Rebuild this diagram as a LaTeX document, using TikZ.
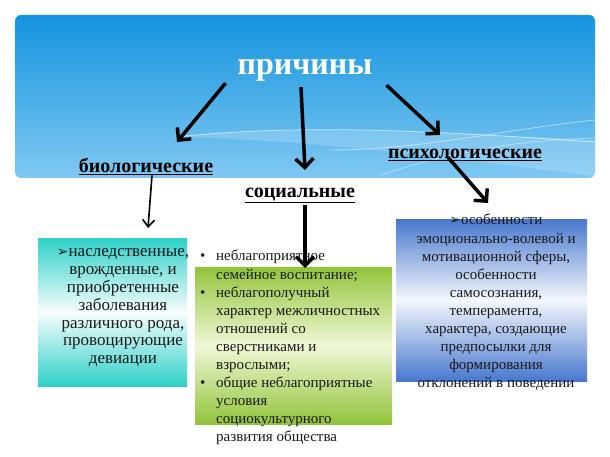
\documentclass[tikz,border=0pt]{standalone}
\usepackage{fontspec}
\setmainfont{Liberation Serif}
\newfontfamily\symfont{DejaVu Sans}
\usetikzlibrary{arrows.meta}
\definecolor{skytop}{RGB}{20,148,222}
\definecolor{skybot}{RGB}{128,200,242}
\definecolor{aqua}{RGB}{46,208,200}
\definecolor{leaf}{RGB}{146,196,58}
\definecolor{leaflight}{RGB}{240,247,214}
\definecolor{royal}{RGB}{72,120,206}
\newcommand{\arrowbullet}{\begingroup\symfont\fontsize{14pt}{14pt}\selectfont ➢\endgroup}
\newcommand{\dotbullet}{\makebox[16pt][l]{\textbullet}}

\begin{document}
\begin{tikzpicture}[x=1pt,y=-1pt,
  bigarrow/.style={line width=3.5pt,-{Straight Barb[length=9pt,width=18pt]}},
  thinarrow/.style={line width=1.6pt,-{Straight Barb[length=7pt,width=12pt]}},
  heading/.style={font=\fontsize{20pt}{24pt}\selectfont\bfseries,anchor=base,inner sep=0pt},
  bodytext/.style={font=\fontsize{15pt}{18.1pt}\selectfont,inner sep=0pt,text=black!90},
  bigtext/.style={font=\fontsize{17pt}{17.8pt}\selectfont,inner sep=0pt,text=black!90},
  causebox/.style={inner sep=0pt,draw=none}]
  \useasboundingbox (0,0) rectangle (610,457);
  \fill[white] (0,0) rectangle (610,457);

  % banner
  \node[causebox,rounded corners=6pt,top color=skytop,bottom color=skybot,
        minimum width=580pt,minimum height=163pt] (sky) at (305,96.5) {};
  \begin{scope}
    \clip[rounded corners=6pt] (15,15) rectangle (595,178);
    \fill[white,opacity=0.18] (175,137) .. controls (300,124) and (420,132) .. (595,140)
      -- (595,176) .. controls (500,165) and (330,140) .. cycle;
    \draw[white,opacity=0.6,line width=0.8pt] (175,137) .. controls (300,124) and (420,130) .. (595,142);
    \draw[white,opacity=0.5,line width=0.8pt] (330,150) .. controls (420,150) and (500,130) .. (595,120);
    \draw[white,opacity=0.4,line width=0.8pt] (380,175) .. controls (460,150) and (520,140) .. (595,138);
  \end{scope}

  \node[font=\fontsize{32pt}{36pt}\selectfont\bfseries,text=white,inner sep=0pt] (root) at (305,70) {причины};

  \node[heading] (bio) at (146,173) {\underline{биологические}};
  \node[heading] (soc) at (300,197) {\underline{социальные}};
  \node[heading] (psy) at (465,159) {\underline{психологические}};

  % boxes
  \node[causebox,top color=aqua,bottom color=aqua,middle color=white!96!aqua,
        minimum width=149pt,minimum height=148pt] (bbox) at (112.5,312) {};
  \node[causebox,top color=leaf,bottom color=leaf,middle color=leaflight,
        minimum width=197pt,minimum height=157pt] (sbox) at (293.5,345.5) {};
  \node[causebox,top color=royal,bottom color=royal,middle color=white!94!royal,
        minimum width=191pt,minimum height=162pt] (pbox) at (491.5,300) {};

  \node[bigtext,align=center] (btext) at (123,308)
    {\arrowbullet наследственные,\\ врожденные, и\\ приобретенные\\ заболевания\\
     различного рода,\\ провоцирующие\\ девиации};
  \node[bodytext,align=left,anchor=north west] (stext) at (200,250)
    {\dotbullet неблагоприятное\\ \hspace*{16pt}семейное воспитание;\\
     \dotbullet неблагополучный\\ \hspace*{16pt}характер межличностных\\
     \hspace*{16pt}отношений со\\ \hspace*{16pt}сверстниками и\\ \hspace*{16pt}взрослыми;\\
     \dotbullet общие неблагоприятные\\ \hspace*{16pt}условия\\
     \hspace*{16pt}социокультурного\\ \hspace*{16pt}развития общества};
  \node[bodytext,align=center] (ptext) at (496,302.5)
    {\arrowbullet особенности\\ эмоционально-волевой и\\ мотивационной сферы,\\
     особенности\\ самосознания,\\ темперамента,\\ характера, создающие\\
     предпосылки для\\ формирования\\ отклонений в поведении};

  % arrows
  \coordinate (biotip) at (177,142);
  \coordinate (soctip) at (305,170);
  \coordinate (psytip) at (440,135);
  \coordinate (bboxtip) at (148,228);
  \coordinate (sboxtip) at (305,268);
  \coordinate (pboxtip) at (488,203);
  \draw[bigarrow] ([xshift=-12pt,yshift=-2pt]root.south west) -- (biotip);
  \draw[bigarrow] ([xshift=-4pt,yshift=-6pt]root.south) -- (soctip);
  \draw[bigarrow] ([xshift=14pt,yshift=-4pt]root.south east) -- (psytip);
  \draw[thinarrow] ([xshift=6pt]bio.south) -- (bboxtip);
  \draw[bigarrow] ([xshift=5pt,yshift=-2pt]soc.south) -- (sboxtip);
  \draw[bigarrow] ([xshift=-17pt,yshift=4pt]psy.south) -- (pboxtip);
\end{tikzpicture}
\end{document}
